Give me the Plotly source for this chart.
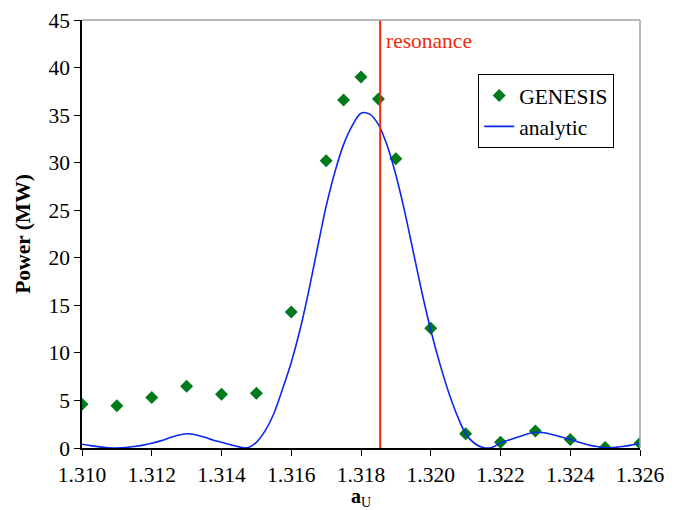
import plotly.graph_objects as go

# GENESIS simulation points
genesis_x = [1.310, 1.311, 1.312, 1.313, 1.314, 1.315, 1.316, 1.317, 1.3175, 1.318,
             1.3185, 1.319, 1.320, 1.321, 1.322, 1.323, 1.324, 1.325, 1.326]
genesis_y = [4.6, 4.45, 5.3, 6.5, 5.65, 5.75, 14.3, 30.2, 36.6, 39.0,
             36.7, 30.4, 12.6, 1.5, 0.6, 1.8, 0.9, 0.05, 0.5]

# Analytic curve
analytic_x = [1.31000, 1.31025, 1.31050, 1.31075, 1.31100, 1.31125, 1.31150, 1.31175,
              1.31200, 1.31225, 1.31250, 1.31275, 1.31300, 1.31325, 1.31350, 1.31375,
              1.31400, 1.31425, 1.31450, 1.31475, 1.31500, 1.31525, 1.31550, 1.31575,
              1.31600, 1.31625, 1.31650, 1.31675, 1.31700, 1.31725, 1.31750, 1.31775,
              1.31800, 1.31825, 1.31850, 1.31875, 1.31900, 1.31925, 1.31950, 1.31975,
              1.32000, 1.32025, 1.32050, 1.32075, 1.32100, 1.32125, 1.32150, 1.32175,
              1.32200, 1.32225, 1.32250, 1.32275, 1.32300, 1.32325, 1.32350, 1.32375,
              1.32400, 1.32425, 1.32450, 1.32475, 1.32500, 1.32525, 1.32550, 1.32575,
              1.32600]
analytic_y = [0.40, 0.25, 0.12, 0.03, 0.0, 0.05, 0.15, 0.30,
              0.50, 0.75, 1.05, 1.35, 1.50, 1.40, 1.15, 0.85,
              0.60, 0.35, 0.12, 0.03, 0.60, 1.80, 3.60, 6.20,
              9.00, 12.4, 16.5, 21.0, 25.4, 29.0, 31.9, 33.9,
              35.2, 35.1, 34.0, 31.8, 28.7, 24.9, 20.6, 16.3,
              12.4, 9.0, 6.0, 3.5, 1.5, 0.5, 0.05, 0.05,
              0.55, 0.85, 1.15, 1.45, 1.65, 1.60, 1.40, 1.15,
              0.90, 0.60, 0.35, 0.15, 0.03, 0.05, 0.15, 0.30,
              0.50]

resonance_x = 1.31855
y_range = [0, 45]
x_range = [1.310, 1.326]

FONT = "Liberation Serif, Times New Roman, serif"
FS = 21.5

fig = go.Figure()
fig.add_trace(go.Scatter(
    x=genesis_x, y=genesis_y, mode="markers", name="GENESIS",
    marker=dict(symbol="diamond", size=10, color="#007A1A"),
))
fig.add_trace(go.Scatter(
    x=analytic_x, y=analytic_y, mode="lines", name="analytic",
    line=dict(color="#0A28F0", width=1.6, shape="spline", smoothing=0.9),
))

fig.add_shape(type="line", x0=resonance_x, x1=resonance_x, y0=y_range[0], y1=y_range[1],
              xref="x", yref="y", line=dict(color="#F02A0A", width=2))
fig.add_annotation(x=resonance_x, y=y_range[1], xref="x", yref="y", text="resonance",
                   showarrow=False, xanchor="left", yanchor="top", xshift=4, yshift=-7,
                   font=dict(family=FONT, size=FS, color="#F02A0A"))

# x-axis title placed below the tick labels
fig.add_annotation(x=0.5, y=-0.081, xref="paper", yref="paper",
                   text="<b>a</b><sub>U</sub>", showarrow=False,
                   xanchor="center", yanchor="top",
                   font=dict(family=FONT, size=20, color="black"))

# grey top/right plot border
fig.add_shape(type="line", x0=0, x1=1, y0=1, y1=1, xref="paper", yref="paper",
              line=dict(color="#A0A0A0", width=1.5))
fig.add_shape(type="line", x0=1, x1=1, y0=0, y1=1, xref="paper", yref="paper",
              line=dict(color="#A0A0A0", width=1.5))

fig.update_layout(
    width=680, height=510,
    margin=dict(l=82, r=40, t=20, b=62, autoexpand=False),
    paper_bgcolor="white", plot_bgcolor="white",
    font=dict(family=FONT, size=FS, color="black"),
    showlegend=True,
    legend=dict(x=0.71, y=0.874, xanchor="left", yanchor="top",
                bordercolor="black", borderwidth=1, bgcolor="white",
                font=dict(family=FONT, size=FS), tracegroupgap=0,
                itemwidth=30),
    xaxis=dict(range=x_range, dtick=0.002, tick0=1.310, tickformat=".3f",
               showgrid=False, zeroline=False, showline=True, linecolor="black",
               linewidth=1.5, ticks="outside", ticklen=6, tickcolor="black",
               automargin=False, tickfont=dict(family=FONT, size=FS)),
    yaxis=dict(range=y_range, dtick=5, showgrid=False, zeroline=False, showline=True,
               linecolor="black", linewidth=1.5, ticks="outside", ticklen=6,
               tickcolor="black", automargin=False, tickfont=dict(family=FONT, size=FS),
               title=dict(text="<b>Power (MW)</b>", font=dict(family=FONT, size=FS),
                          standoff=12)),
)

fig.write_html("out.html")
